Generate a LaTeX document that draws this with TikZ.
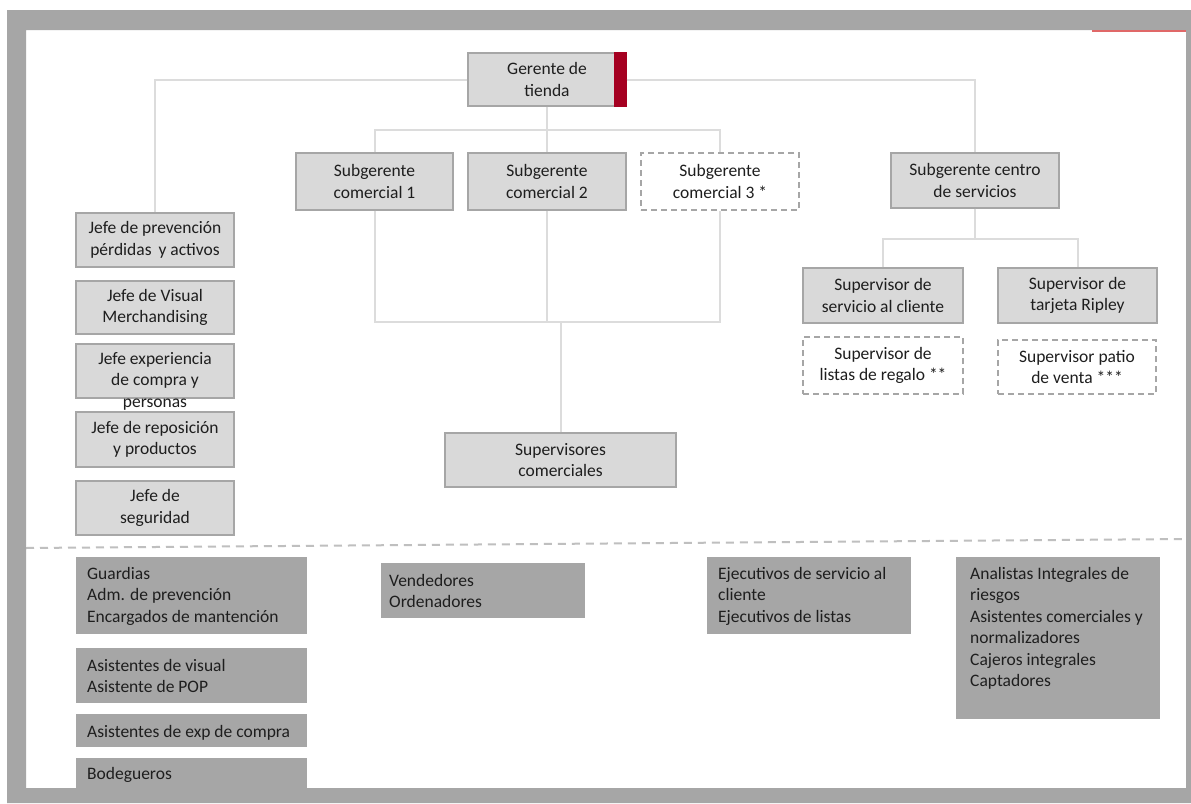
\documentclass[tikz,border=0pt]{standalone}
\usepackage{fontspec}
\setmainfont{Carlito}
\definecolor{boxfill}{HTML}{D9D9D9}
\definecolor{boxline}{HTML}{A6A6A6}
\definecolor{darkfill}{HTML}{A6A6A6}
\definecolor{framegray}{HTML}{A6A6A6}
\definecolor{linkcol}{HTML}{DCDCDC}
\definecolor{sepcol}{HTML}{BFBFBF}
\definecolor{ink}{HTML}{1E1E1E}
\definecolor{barred}{HTML}{A50021}
\definecolor{lightred}{HTML}{E06868}
\newcommand\chartfont{\fontsize{17.5}{21.5}\selectfont}
\tikzset{
  lbox/.style={draw=boxline, fill=boxfill, line width=1.4pt, align=center,
               inner sep=2pt, text=ink},
  dbox/.style={lbox, fill=white, dash pattern=on 6pt off 4pt, line width=1.2pt},
  gbox/.style={fill=darkfill, draw=none, inner sep=0pt, anchor=north west},
  gtext/.style={align=left, anchor=base west, inner sep=0pt, text=ink},
  link/.style={draw=linkcol, line width=2pt},
}
\begin{document}
\begin{tikzpicture}[x=1pt, y=-1pt, font=\chartfont]
\useasboundingbox (0,0) rectangle (1191,803);
\fill[white] (0,0) rectangle (1191,803);

% connector bars
\coordinate (topbar) at (547,130);
\coordinate (combar) at (547,322);
\coordinate (srvbar) at (975,239);

% top level
\node[lbox, minimum width=158pt, minimum height=53pt] (ger) at (547,79.5) {Gerente de\\tienda};
\fill[barred] ([xshift=-13pt]ger.north east) rectangle (ger.south east);

% second level
\node[lbox, minimum width=157pt, minimum height=57pt] (sc1) at (374.5,181.5) {Subgerente\\comercial 1};
\node[lbox, minimum width=158pt, minimum height=57pt] (sc2) at (547,181.5) {Subgerente\\comercial 2};
\node[dbox, minimum width=158pt, minimum height=57pt] (sc3) at (720,181.5) {Subgerente\\comercial 3 *};
\node[lbox, minimum width=168pt, minimum height=55pt] (scs) at (975,180.5) {Subgerente centro\\de servicios};

% staff column
\node[lbox, minimum width=158pt, minimum height=54pt] (j1) at (155,240) {Jefe de prevención\\pérdidas\, y activos};
\node[lbox, minimum width=158pt, minimum height=53pt] (j2) at (155,307.5) {Jefe de Visual\\Merchandising};
\node[lbox, minimum width=158pt, minimum height=54pt] (j3) at (155,371) {};
\node[text=ink, align=center, inner sep=0pt] (j3t) at (155,381) {Jefe experiencia\\de compra y\\personas};
\node[lbox, minimum width=158pt, minimum height=55pt] (j4) at (155,439.5) {Jefe de reposición\\y productos};
\node[lbox, minimum width=158pt, minimum height=54pt] (j5) at (155,508) {Jefe de\\seguridad};

% commercial supervisors
\node[lbox, minimum width=231pt, minimum height=54pt] (sup) at (560.5,460) {Supervisores\\comerciales};

% service centre
\node[lbox, minimum width=160pt, minimum height=55pt] (ssc) at (883,295.5) {Supervisor de\\servicio al cliente};
\node[lbox, minimum width=159pt, minimum height=55pt] (str) at (1077.5,295.5) {Supervisor de\\tarjeta Ripley};
\node[dbox, minimum width=160pt, minimum height=57pt] (slr) at (883,365.5) {Supervisor de\\listas de regalo **};
\node[dbox, minimum width=158pt, minimum height=54pt] (spv) at (1077,367) {Supervisor patio\\de venta ***};

% connectors
\path[link] (ger.west) -| (j1.north);
\path[link] (ger.east) -| (scs.north);
\path[link] (ger.south) -- (sc2.north);
\path[link] (sc1.north) -- (sc1.north |- topbar) -- (sc3.north |- topbar) -- (sc3.north);
\path[link] (sc1.south) -- (sc1.south |- combar) -- (sc3.south |- combar) -- (sc3.south);
\path[link] (sc2.south) -- (sc2.south |- combar);
\path[link] (sup.north) -- (sup.north |- combar);
\path[link] (scs.south) -- (srvbar);
\path[link] (ssc.north) -- (ssc.north |- srvbar) -- (str.north |- srvbar) -- (str.north);

% separator between levels
\coordinate (sepl) at (26,548);
\coordinate (sepr) at (1186,539);
\draw[sepcol, line width=2pt, dash pattern=on 8pt off 6pt] (sepl) -- (sepr);

% operational staff (text nodes are placed by the baseline of their last line)
\node[gbox, minimum width=231pt, minimum height=77pt] (b1) at (76,557) {};
\node[gtext] (b1t) at (87,622) {Guardias\\Adm. de prevención\\Encargados de mantención};
\node[gbox, minimum width=231pt, minimum height=55pt] (b2) at (76,648) {};
\node[gtext] (b2t) at (87,692.5) {Asistentes de visual\\Asistente de POP};
\node[gbox, minimum width=231pt, minimum height=33pt] (b3) at (76,714) {};
\node[gtext] (b3t) at (87,737) {Asistentes de exp de compra};
\node[gbox, minimum width=231pt, minimum height=42pt] (b4) at (76,758) {};
\node[gtext] (b4t) at (87,779) {Bodegueros};
\node[gbox, minimum width=204pt, minimum height=55pt] (b5) at (381,563) {};
\node[gtext] (b5t) at (389,607.5) {Vendedores\\Ordenadores};
\node[gbox, minimum width=204pt, minimum height=77pt] (b6) at (707,557) {};
\node[gtext] (b6t) at (718,622) {Ejecutivos de servicio al\\cliente\\Ejecutivos de listas};
\node[gbox, minimum width=204pt, minimum height=162pt] (b7) at (956,557) {};
\node[gtext] (b7t) at (970,686.5) {Analistas Integrales de\\riesgos\\Asistentes comerciales y\\normalizadores\\Cajeros integrales\\Captadores};

% page frame
\fill[framegray, even odd rule] (7,10) rectangle (1191,803) (26,30) rectangle (1186,788);
\coordinate (redl) at (1092,31);
\coordinate (redr) at (1186,31);
\draw[lightred, line width=2.5pt] (redl) -- (redr);
\end{tikzpicture}
\end{document}
